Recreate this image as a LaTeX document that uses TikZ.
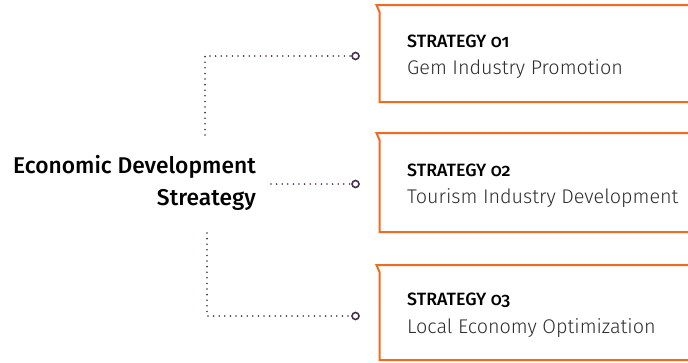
\documentclass[tikz,border=0pt]{standalone}
\usepackage{fontspec}
\setmainfont{Fira Sans}[Numbers=OldStyle]
\newfontfamily\firamed{Fira Sans Medium}[Numbers=OldStyle]
\newfontfamily\firalight{Fira Sans Light}[Numbers=OldStyle]
\definecolor{boxorange}{HTML}{F26A21}
\definecolor{dotpurple}{HTML}{46304E}
\definecolor{bodygray}{HTML}{2E2E2E}
\begin{document}
\begin{tikzpicture}[x=1pt,y=-1pt,
  stratbox/.style={draw=boxorange,line width=2pt,fill=white,line join=miter},
  dotline/.style={draw=dotpurple,line width=1.8pt,line cap=round,dash pattern=on 0pt off 5.6pt},
  endring/.style={circle,draw=dotpurple,line width=1.6pt,fill=white,inner sep=0pt,minimum size=7pt},
  titletext/.style={anchor=base west,inner sep=0pt,font=\firamed\fontsize{17.8}{20}\selectfont,text=black},
  bodytext/.style={anchor=base west,inner sep=0pt,font=\firalight\fontsize{19.8}{24}\selectfont,text=bodygray},
  maintext/.style={anchor=base east,inner sep=0pt,font=\firamed\fontsize{22.8}{27}\selectfont,text=black}]
\useasboundingbox (0,0) rectangle (688,362);
\clip (0,0) rectangle (688,362);
% boxes
\foreach \t/\b in {5/102,133/232,265/360}{
  \path[stratbox] (376.5,\t) -- (695,\t) -- (695,\b) -- (379.5,\b) -- (379.5,\t+7) -- cycle;
}
% texts
\node[titletext] (t1) at (407,47) {STRATEGY 01};
\node[bodytext] (b1) at (407,74) {Gem Industry Promotion};
\node[titletext] (t2) at (407,176) {STRATEGY 02};
\node[bodytext] (b2) at (407,203) {Tourism Industry Development};
\node[titletext] (t3) at (407,305) {STRATEGY 03};
\node[bodytext] (b3) at (407,333) {Local Economy Optimization};
\node[maintext] (m1) at (256,173) {Economic Development};
\node[maintext] (m2) at (256,205) {Streategy};
% connectors
\coordinate (c1a) at (205,135);
\coordinate (c1b) at (205,56);
\node[endring] (r1) at (355.5,56) {};
\draw[dotline] (c1a) -- (c1b) -- (r1.west);
\coordinate (c2a) at (271,184);
\node[endring] (r2) at (355.5,184) {};
\draw[dotline] (c2a) -- (r2.west);
\coordinate (c3a) at (207,233);
\coordinate (c3b) at (207,316);
\node[endring] (r3) at (355.5,316) {};
\draw[dotline] (c3a) -- (c3b) -- (r3.west);
\end{tikzpicture}
\end{document}
